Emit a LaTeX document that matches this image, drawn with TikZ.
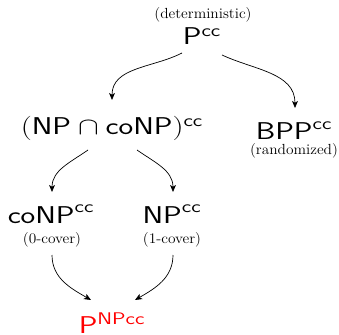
\documentclass[tikz,border=0pt]{standalone}
\usepackage{graphicx}
\usetikzlibrary{arrows.meta}
\newcommand{\wcls}[1]{\scalebox{1.28}[1]{#1}}
\newcommand{\wnote}[1]{\scalebox{1.05}[1]{#1}}
\begin{document}
\begin{tikzpicture}[
  x=0.03cm, y=0.03cm,
  cls/.style={anchor=base, inner sep=0pt, font=\fontsize{20.74}{24}\selectfont},
  note/.style={inner sep=0pt, font=\fontsize{12.5}{14}\selectfont},
  arr/.style={-{Stealth[length=6pt,width=5pt,inset=1.5pt]}, semithick}
]
  \useasboundingbox (0,0) rectangle (339,334);
  % classes
  \node[note] (det) at (203,319) {\wnote{(deterministic)}};
  \node[cls] (pcc) at (202,289) {\wcls{$\mathsf{P}^{\mathsf{cc}}$}};
  \node[cls] (cap) at (112,199) {\wcls{$(\mathsf{NP}\cap\mathsf{coNP})^{\mathsf{cc}}$}};
  \node[cls] (bpp) at (294,194) {\wcls{$\mathsf{BPP}^{\mathsf{cc}}$}};
  \node[note] (rand) at (294,183) {\wnote{(randomized)}};
  \node[cls] (conp) at (51,111) {\wcls{$\mathsf{coNP}^{\mathsf{cc}}$}};
  \node[note] (zero) at (52,94) {\wnote{(0-cover)}};
  \node[cls] (np) at (172,111) {\wcls{$\mathsf{NP}^{\mathsf{cc}}$}};
  \node[note] (one) at (172,94) {\wnote{(1-cover)}};
  \node[cls, text=red] (pnp) at (112,1) {\wcls{$\mathsf{P}^{\mathsf{NPcc}}$}};
  % inclusions
  \draw[arr] ([shift={(-20,-8)}]pcc.base) to[out=207,in=90] ([shift={(0,35)}]cap.base);
  \draw[arr] ([shift={(20,-10)}]pcc.base) to[out=-25,in=90] ([shift={(1,32)}]bpp.base);
  \draw[arr] ([shift={(-24,-15)}]cap.base) to[out=215,in=90] ([shift={(1,31)}]conp.base);
  \draw[arr] ([shift={(25,-15)}]cap.base) to[out=-35,in=90] ([shift={(1,31)}]np.base);
  \draw[arr] ([shift={(0,-15)}]zero.center) to[out=-90,in=150] ([shift={(-21,33)}]pnp.base);
  \draw[arr] ([shift={(1,-15)}]one.center) to[out=-90,in=30] ([shift={(23,33)}]pnp.base);
\end{tikzpicture}
\end{document}
